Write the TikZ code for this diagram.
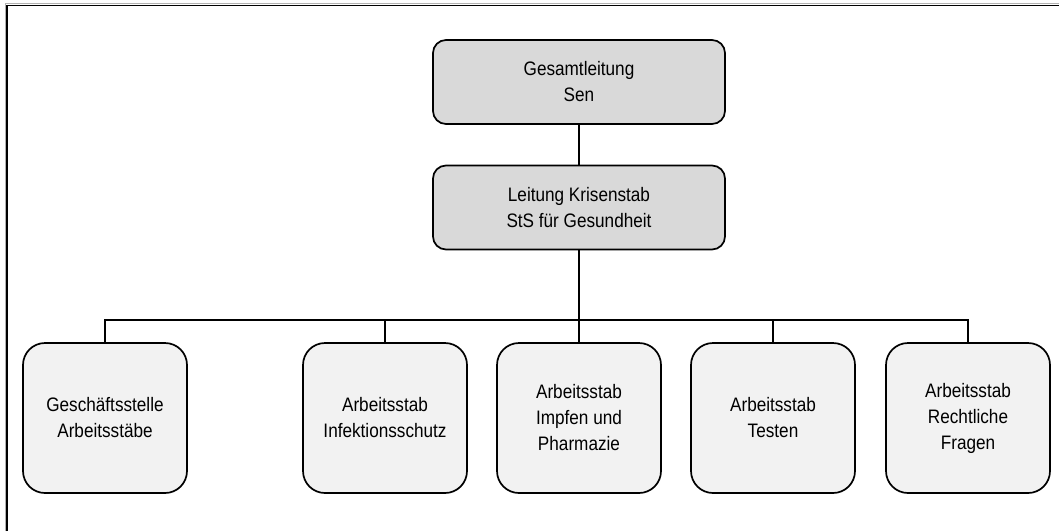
\documentclass[tikz,border=0pt]{standalone}
\usepackage{fontspec}
\setmainfont[FakeStretch=0.88]{Liberation Sans}
\begin{document}
\begin{tikzpicture}[x=1pt,y=-1pt,
  topbox/.style={draw=black, line width=1.7pt, fill=gray!30, rounded corners=13pt,
    minimum width=292pt, minimum height=84pt, align=center, inner sep=0pt,
    font=\fontsize{19.5}{26}\selectfont},
  subbox/.style={draw=black, line width=1.7pt, fill=black!5, rounded corners=22pt,
    minimum width=164pt, minimum height=150pt, align=center, inner sep=0pt,
    font=\fontsize{19.5}{26}\selectfont},
  conn/.style={draw=black, line width=1.5pt}]
\useasboundingbox (0,0) rectangle (1059,531);
\fill[white] (0,0) rectangle (1059,531);
\draw[gray!60, line width=1pt] (5,531) -- (5,3.5) -- (1059,3.5);
\draw[black, line width=1.6pt] (6.8,531) -- (6.8,5.3) -- (1059,5.3);

\node[topbox] (top) at (579,82) {Gesamtleitung\\Sen};
\node[topbox] (mid) at (579,207.5) {Leitung Krisenstab\\StS für Gesundheit};

\node[subbox] (b1) at (105,418) {Geschäftsstelle\\Arbeitsstäbe};
\node[subbox] (b2) at (385,418) {Arbeitsstab\\Infektionsschutz};
\node[subbox] (b3) at (579,418) {Arbeitsstab\\Impfen und\\Pharmazie};
\node[subbox] (b4) at (773,418) {Arbeitsstab\\Testen};
\node[subbox] (b5) at (968,418) {Arbeitsstab\\Rechtliche\\Fragen};

\coordinate (bus) at (0,320);
\draw[conn] (top.south) -- (mid.north);
\draw[conn] (mid.south) -- (b3.north);
\draw[conn] (b1.north) |- (b3.north |- bus) -| (b5.north);
\draw[conn] (b2.north) -- (b2.north |- bus);
\draw[conn] (b4.north) -- (b4.north |- bus);
\end{tikzpicture}
\end{document}
